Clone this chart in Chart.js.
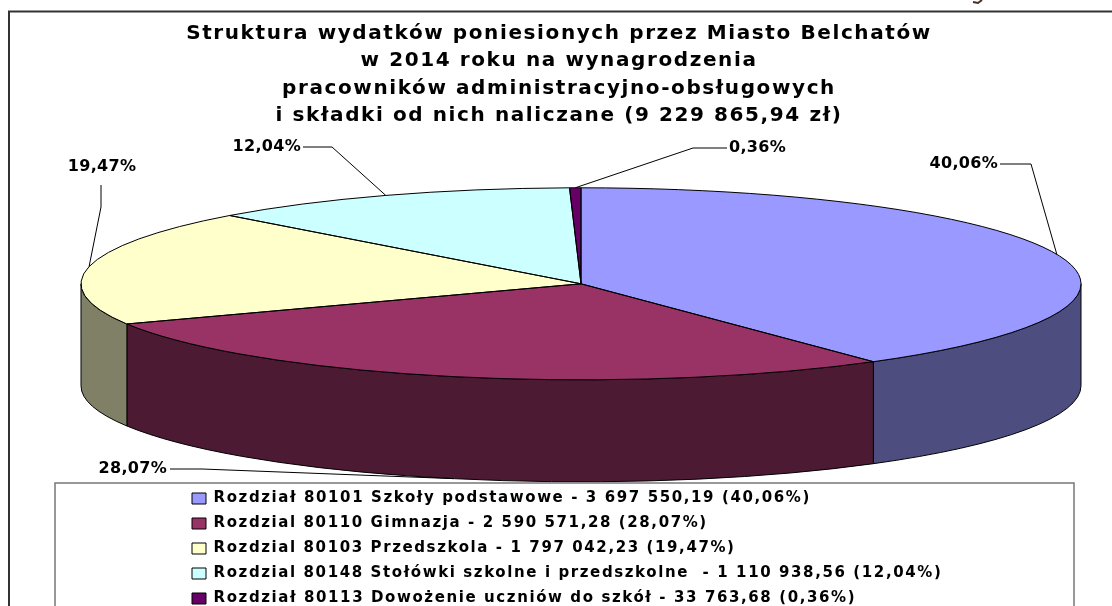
<!DOCTYPE html>
<html><head><meta charset="utf-8">
<style>html,body{margin:0;padding:0;background:#fff;overflow:hidden}canvas{display:block}</style>
<script src="https://cdn.jsdelivr.net/npm/chart.js@4/dist/chart.umd.min.js"></script>
</head><body><canvas id="c" width="1112" height="606"></canvas>
<script>
const titleLines = ["Struktura wydatków poniesionych przez Miasto Belchatów","w 2014 roku na wynagrodzenia","pracowników administracyjno-obsługowych","i składki od nich naliczane (9 229 865,94 zł)"];
const categories = ["Rozdział 80101 Szkoły podstawowe - 3 697 550,19 (40,06%)","Rozdzial 80110 Gimnazja - 2 590 571,28 (28,07%)","Rozdzial 80103 Przedszkola - 1 797 042,23 (19,47%)","Rozdzial 80148 Stołówki szkolne i przedszkolne  - 1 110 938,56 (12,04%)","Rozdział 80113 Dowożenie uczniów do szkół - 33 763,68 (0,36%)"];
const values = [3697550.19,2590571.28,1797042.23,1110938.56,33763.68];
const percentLabels = ["40,06%","28,07%","19,47%","12,04%","0,36%"];
const topColors = ["#9999FF","#993366","#FFFFCC","#CCFFFF","#660066"];
const wallColors = ["#4D4D80","#4D1A33","#808066","#668080","#330033"];

const squash = 96/500, depth = 102;
// leader elbow and text placement per slice, relative to page
const leaders = [
 {pts:[[1031,164],[1000,164]], text:[998,164,'right']},
 {pts:[[202,469],[170,469]], text:[167,469,'right'], onWall:true},
 {pts:[[101,207],[101,185]], text:[102,167,'center']},
 {pts:[[332,147],[303,147]], text:[301,147,'right']},
 {pts:[[693,148],[727,148]], text:[729,148,'left']}
];
function pieTransform(ctx,a){ctx.translate(a.x,a.y);ctx.scale(1,squash);ctx.translate(-a.x,-a.y);}

const pie3d = {
 id:'pie3d',
 beforeLayout(chart){
  const lg = chart.legend, tb = chart.titleBlock;
  lg._layers = () => [{z:10,draw(ca){
    const c=chart.ctx;c.save();c.fillStyle='#fff';c.fillRect(55,483,1019,130);
    c.strokeStyle='#777';c.lineWidth=1.5;c.strokeRect(55,483,1019,130);
    c.letterSpacing='1.6px';
    lg.draw(ca);
    c.restore();
  }}];
  tb._layers = () => [{z:1,draw(ca){
    const c=chart.ctx;c.save();c.letterSpacing='1.6px';tb.draw(ca);c.restore();
  }}];
 },
 afterLayout(chart){
  const t=chart.titleBlock; t.left=5; t.right=1113;
  const lg=chart.legend; lg.left=182; lg.right=1070; lg.top=481; lg.bottom=650;
 },
 beforeDraw(chart){
  const c=chart.ctx;c.save();c.fillStyle='#fff';c.fillRect(0,0,chart.width,chart.height);
  c.strokeStyle='#333';c.lineWidth=2;c.beginPath();c.moveTo(9,607);c.lineTo(9,11.5);c.lineTo(1112,11.5);c.stroke();
  c.strokeStyle='#4a2e20';c.lineWidth=2;c.beginPath();c.moveTo(982,0);c.lineTo(978,3);c.lineTo(973,2);c.stroke();
  c.restore();
 },
 beforeDatasetsDraw(chart){
  const c=chart.ctx, arcs=chart.getDatasetMeta(0).data;
  c.save();
  arcs.forEach((a,i)=>{
    const s=Math.max(a.startAngle,0), e=Math.min(a.endAngle,Math.PI);
    if(e<=s) return;
    const ry=a.outerRadius*squash, rx=a.outerRadius;
    c.beginPath();
    c.ellipse(a.x,a.y,rx,ry,0,s,e);
    c.ellipse(a.x,a.y+depth,rx,ry,0,e,s,true);
    c.closePath();
    c.fillStyle=wallColors[i];c.fill();
    c.strokeStyle='#000';c.lineWidth=1;c.stroke();
  });
  c.restore();
  c.save();
  pieTransform(c,arcs[0]);
 },
 afterDatasetsDraw(chart){
  const c=chart.ctx, arcs=chart.getDatasetMeta(0).data;
  c.restore();
  c.save();c.strokeStyle='#000';c.lineWidth=1;
  arcs.forEach(a=>{
    c.beginPath();
    c.save();pieTransform(c,a);
    c.moveTo(a.x,a.y);c.arc(a.x,a.y,a.outerRadius,a.startAngle,a.endAngle);c.closePath();
    c.restore();c.stroke();
  });
  // leaders and percentage labels
  c.font='bold 16px "DejaVu Sans"';c.fillStyle='#000';c.textBaseline='middle';c.letterSpacing='0.3px';
  arcs.forEach((a,i)=>{
    const m=(a.startAngle+a.endAngle)/2, L=leaders[i];
    const ax=a.x+a.outerRadius*Math.cos(m), ay=a.y+a.outerRadius*squash*Math.sin(m)+(L.onWall?depth:0);
    c.beginPath();c.moveTo(ax,ay);L.pts.forEach(p=>c.lineTo(p[0],p[1]));c.lineWidth=1;c.strokeStyle='#000';c.stroke();
    c.textAlign=L.text[2];c.fillText(percentLabels[i],L.text[0],L.text[1]);
  });
  c.restore();
 }
};

new Chart(document.getElementById('c'),{
 type:'pie',
 data:{labels:categories,datasets:[{data:values,backgroundColor:topColors,borderWidth:0}]},
 options:{
  responsive:false,animation:false,events:[],
  radius:500,
  layout:{padding:{left:50,right:0,top:0,bottom:170}},
  plugins:{
   tooltip:{enabled:false},
   title:{display:true,text:titleLines,color:'#000',font:{family:'"DejaVu Sans"',size:20,weight:'bold',lineHeight:1.37},padding:{top:20,bottom:2}},
   legend:{position:'chartArea',align:'start',labels:{
     color:'#000',font:{family:'"DejaVu Sans"',size:15,weight:'bold'},boxWidth:14,boxHeight:11,padding:10,
     generateLabels(chart){return Chart.overrides.pie.plugins.legend.labels.generateLabels(chart).map(it=>({...it,strokeStyle:'#000',lineWidth:1}));}
   }}
  }
 },
 plugins:[pie3d]
});
</script></body></html>
